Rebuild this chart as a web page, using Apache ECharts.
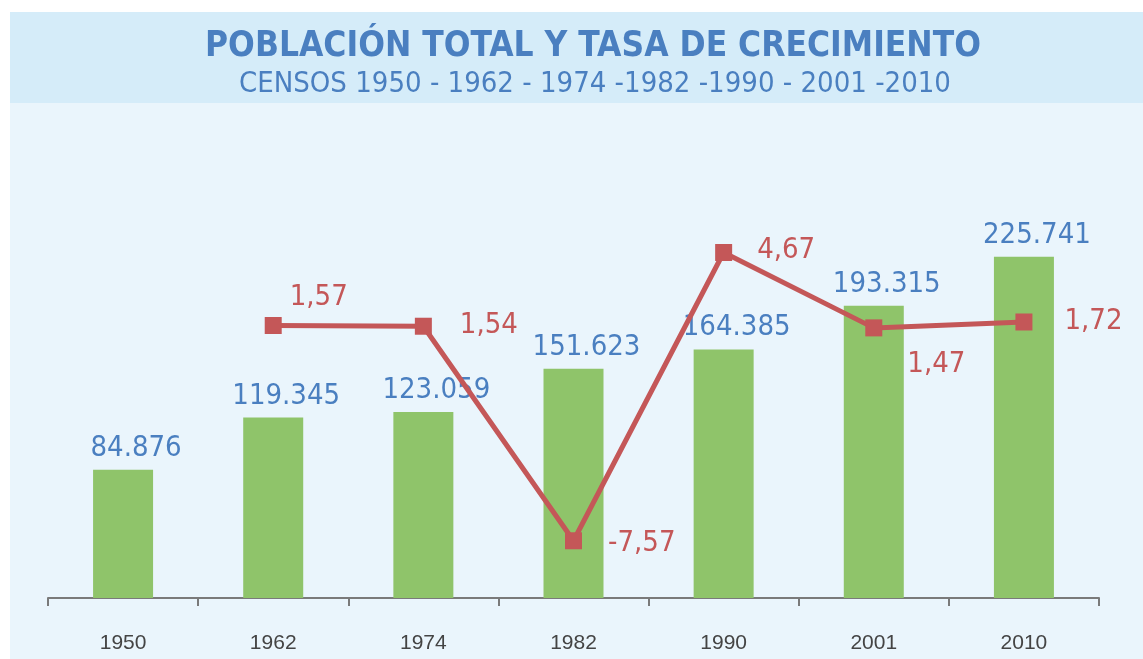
<!DOCTYPE html>
<html>
<head>
<meta charset="utf-8">
<script src="https://cdn.jsdelivr.net/npm/echarts@6/dist/echarts.min.js"></script>
<style>
html,body{margin:0;padding:0;background:#fff;}
#chart{width:1143px;height:659px;}
</style>
</head>
<body>
<div id="chart"></div>
<script>
var years = ['1950','1962','1974','1982','1990','2001','2010'];
var poblacion = [84876, 119345, 123059, 151623, 164385, 193315, 225741];
var tasa = [null, 1.57, 1.54, -7.57, 4.67, 1.47, 1.72];

// where each growth-rate label sits relative to its marker
var tasaLabelOffset = [null, [25, -20], [45, 8], [43, 11], [42, 6], [42, 45], [49, 8]];

var blue = '#4a7fc0';
var red = '#c45758';
var narrow = '"Liberation Sans Narrow", "DejaVu Sans Condensed", sans-serif';

function fmtPob(v){
    var s = String(v);
    return s.slice(0, s.length-3) + '.' + s.slice(-3);
}

var lineData = tasa.map(function(v, i){
    if (v === null) return null;
    return {
        value: v,
        label: { position: tasaLabelOffset[i], align: 'left', verticalAlign: 'middle' }
    };
});

var chart = echarts.init(document.getElementById('chart'));
chart.setOption({
    backgroundColor: '#ffffff',
    animation: false,
    graphic: [
        { type: 'rect', z: -10, shape: { x: 10, y: 12, width: 1133, height: 91 }, style: { fill: '#d5ecf9' } },
        { type: 'rect', z: -10, shape: { x: 10, y: 103, width: 1133, height: 556 }, style: { fill: '#eaf5fc' } }
    ],
    title: [{
        text: 'POBLACIÓN TOTAL Y TASA DE CRECIMIENTO',
        left: 588,
        textAlign: 'center',
        top: 24,
        textStyle: { color: blue, fontSize: 35, fontWeight: 'bold', fontFamily: narrow }
    }, {
        text: 'CENSOS 1950 - 1962 - 1974 -1982 -1990 - 2001 -2010',
        left: 590,
        textAlign: 'center',
        top: 65,
        textStyle: { color: blue, fontSize: 29, fontWeight: 'normal', fontFamily: narrow }
    }],
    grid: { left: 48, right: 44, top: 127, bottom: 61 },
    xAxis: {
        type: 'category',
        data: years,
        axisLine: { lineStyle: { color: '#7a7a7a', width: 2 } },
        axisTick: { show: true, length: 8, lineStyle: { color: '#7a7a7a', width: 2 } },
        axisLabel: { color: '#444', fontSize: 21, margin: 35, fontFamily: 'Liberation Sans, sans-serif' }
    },
    yAxis: [{
        type: 'value', min: 0, max: 311500, show: false, splitLine: { show: false }
    }, {
        type: 'value', min: -10, max: 10, show: false, splitLine: { show: false }
    }],
    series: [{
        type: 'bar',
        data: poblacion,
        barWidth: 60,
        itemStyle: { color: '#8fc46a' },
        label: {
            show: true,
            position: 'top',
            distance: 7,
            offset: [13, 0],
            color: blue,
            fontSize: 29,
            fontFamily: narrow,
            formatter: function(p){ return fmtPob(p.value); }
        }
    }, {
        type: 'line',
        yAxisIndex: 1,
        data: lineData,
        symbol: 'rect',
        symbolSize: 17,
        lineStyle: { color: red, width: 5 },
        itemStyle: { color: red },
        label: {
            show: true,
            color: red,
            fontSize: 29,
            fontFamily: narrow,
            formatter: function(p){ return p.value.toFixed(2).replace('.', ','); }
        },
        z: 5
    }]
});
</script>
</body>
</html>
